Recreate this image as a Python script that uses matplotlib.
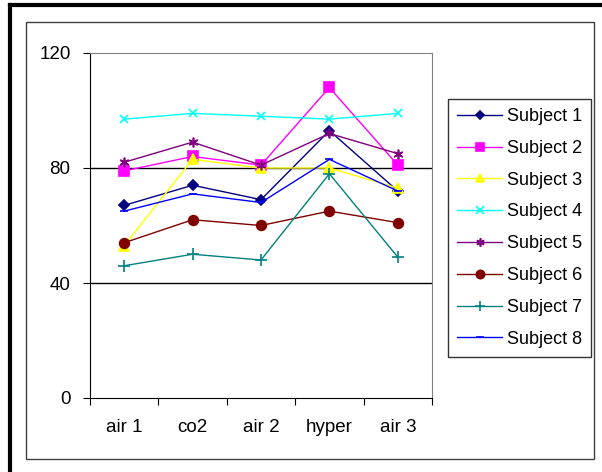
import matplotlib.pyplot as plt
from matplotlib.lines import Line2D
from matplotlib.patches import Rectangle
import numpy as np

plt.rcParams['font.family'] = ['Liberation Sans', 'DejaVu Sans']

# Datos
condiciones = ['air 1', 'co2', 'air 2', 'hyper', 'air 3']
sujetos = ['Subject 1', 'Subject 2', 'Subject 3', 'Subject 4',
           'Subject 5', 'Subject 6', 'Subject 7', 'Subject 8']
s1 = [67, 74, 69, 93, 72]
s2 = [79, 84, 81, 108, 81]
s3 = [53, 83, 80, 80, 73]
s4 = [97, 99, 98, 97, 99]
s5 = [82, 89, 81, 92, 85]
s6 = [54, 62, 60, 65, 61]
s7 = [46, 50, 48, 78, 49]
s8 = [65, 71, 68, 83, 72]
valores = [s1, s2, s3, s4, s5, s6, s7, s8]

colores = ['#000080', '#FF00FF', '#FFFF00', '#00FFFF',
           '#800080', '#800000', '#008080', '#0000FF']
marcadores = ['D', 's', '^', 'x', (6, 2, 0), 'o', '+', '_']
tamanos = [5, 7, 7, 6, 7, 7, 8, 6]

W, H = 602, 472
fig = plt.figure(figsize=(W / 100, H / 100), dpi=100)

# marco exterior grueso (solo izquierda y arriba visibles)
fig.add_artist(Line2D([10 / W, 10 / W], [0, 1 - 5 / H], color='black', lw=3))
fig.add_artist(Line2D([10 / W, 1], [1 - 5 / H, 1 - 5 / H], color='black', lw=3))
# marco interior del gráfico
fig.add_artist(Rectangle((26 / W, 1 - 459 / H), (594 - 26) / W, (459 - 22) / H,
                         fill=False, edgecolor='#404040', lw=1))

# área de trazado
x0, y0, x1, y1 = 90, 53, 432, 398
ax = fig.add_axes([x0 / W, 1 - y1 / H, (x1 - x0) / W, (y1 - y0) / H])

x = np.arange(len(condiciones)) + 0.5
for nombre, v, c, m, ms in zip(sujetos, valores, colores, marcadores, tamanos):
    ax.plot(x, v, color=c, lw=1, marker=m, markersize=ms, markeredgewidth=1.2,
            markerfacecolor=c, markeredgecolor=c, label=nombre)

ax.set_xlim(0, len(condiciones))
ax.set_ylim(0, 120)
ax.set_yticks([0, 40, 80, 120])
ax.set_yticklabels(['0', '40', '80', '120'])
for yv in [40, 80]:
    ax.axhline(yv, color='black', lw=1, zorder=0)

ax.set_xticks(np.arange(len(condiciones) + 1))
ax.set_xticklabels([])
ax.set_xticks(x, minor=True)
ax.set_xticklabels(condiciones, minor=True)
ax.tick_params(axis='x', which='minor', length=0, pad=15, labelsize=13.5)
ax.tick_params(axis='x', which='major', length=5, direction='out')
ax.tick_params(axis='y', length=5, direction='out', labelsize=13.5, pad=9)

ax.spines['left'].set_color('black')
ax.spines['bottom'].set_color('black')
ax.spines['top'].set_color('#808080')
ax.spines['right'].set_color('#808080')

leg = fig.legend(loc='upper left', bbox_to_anchor=(448 / W, 1 - 99 / H),
                 frameon=True, fancybox=False, fontsize=13,
                 borderpad=0.5, labelspacing=0.82, handlelength=2.5,
                 handletextpad=0.25, borderaxespad=0, markerscale=0.85)
leg.get_frame().set_edgecolor('black')
leg.get_frame().set_linewidth(1)

fig.savefig('out.png', dpi=100)
